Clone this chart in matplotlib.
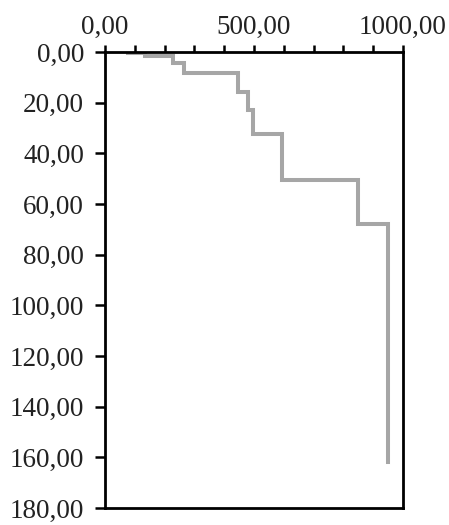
import matplotlib
matplotlib.use("Agg")
import matplotlib.pyplot as plt
from matplotlib.ticker import FixedLocator, FuncFormatter

# Step profile: value (x) reached at each depth (y)
values = [77, 134, 229, 265, 445, 481, 498, 593, 848, 948]
depths = [0.6, 1.4, 4.4, 8.2, 15.8, 23.0, 32.5, 50.5, 68.0, 162.0]

x_ticks = list(range(0, 1001, 100))
x_labeled = [0, 500, 1000]
y_ticks = list(range(0, 181, 20))

plt.rcParams["font.family"] = ["Liberation Serif", "DejaVu Serif"]

fig = plt.figure(figsize=(4.49, 5.25), dpi=100)
ax = fig.add_axes([0.2339, 0.0324, 0.8976 - 0.2339, 0.9010 - 0.0324])

ax.plot(values, depths, drawstyle="steps-post", color="#a6a6a6", lw=2.9,
        solid_joinstyle="miter")

ax.set_xlim(0, 1000)
ax.set_ylim(180, 0)

ax.xaxis.tick_top()
ax.xaxis.set_major_locator(FixedLocator(x_ticks))
ax.yaxis.set_major_locator(FixedLocator(y_ticks))


def comma_fmt(v):
    return f"{v:.2f}".replace(".", ",")


ax.xaxis.set_major_formatter(
    FuncFormatter(lambda v, p: comma_fmt(v) if round(v) in x_labeled else ""))
ax.yaxis.set_major_formatter(FuncFormatter(lambda v, p: comma_fmt(v)))

ax.tick_params(axis="x", direction="out", length=5, width=1.8, labelsize=19.5,
               pad=4, colors="black", labelcolor="#222222")
ax.tick_params(axis="y", direction="out", length=7, width=1.8, labelsize=19.5,
               pad=8, colors="black", labelcolor="#222222")

for s in ax.spines.values():
    s.set_linewidth(2.0)
    s.set_color("black")

fig.savefig("out.png", dpi=100)
